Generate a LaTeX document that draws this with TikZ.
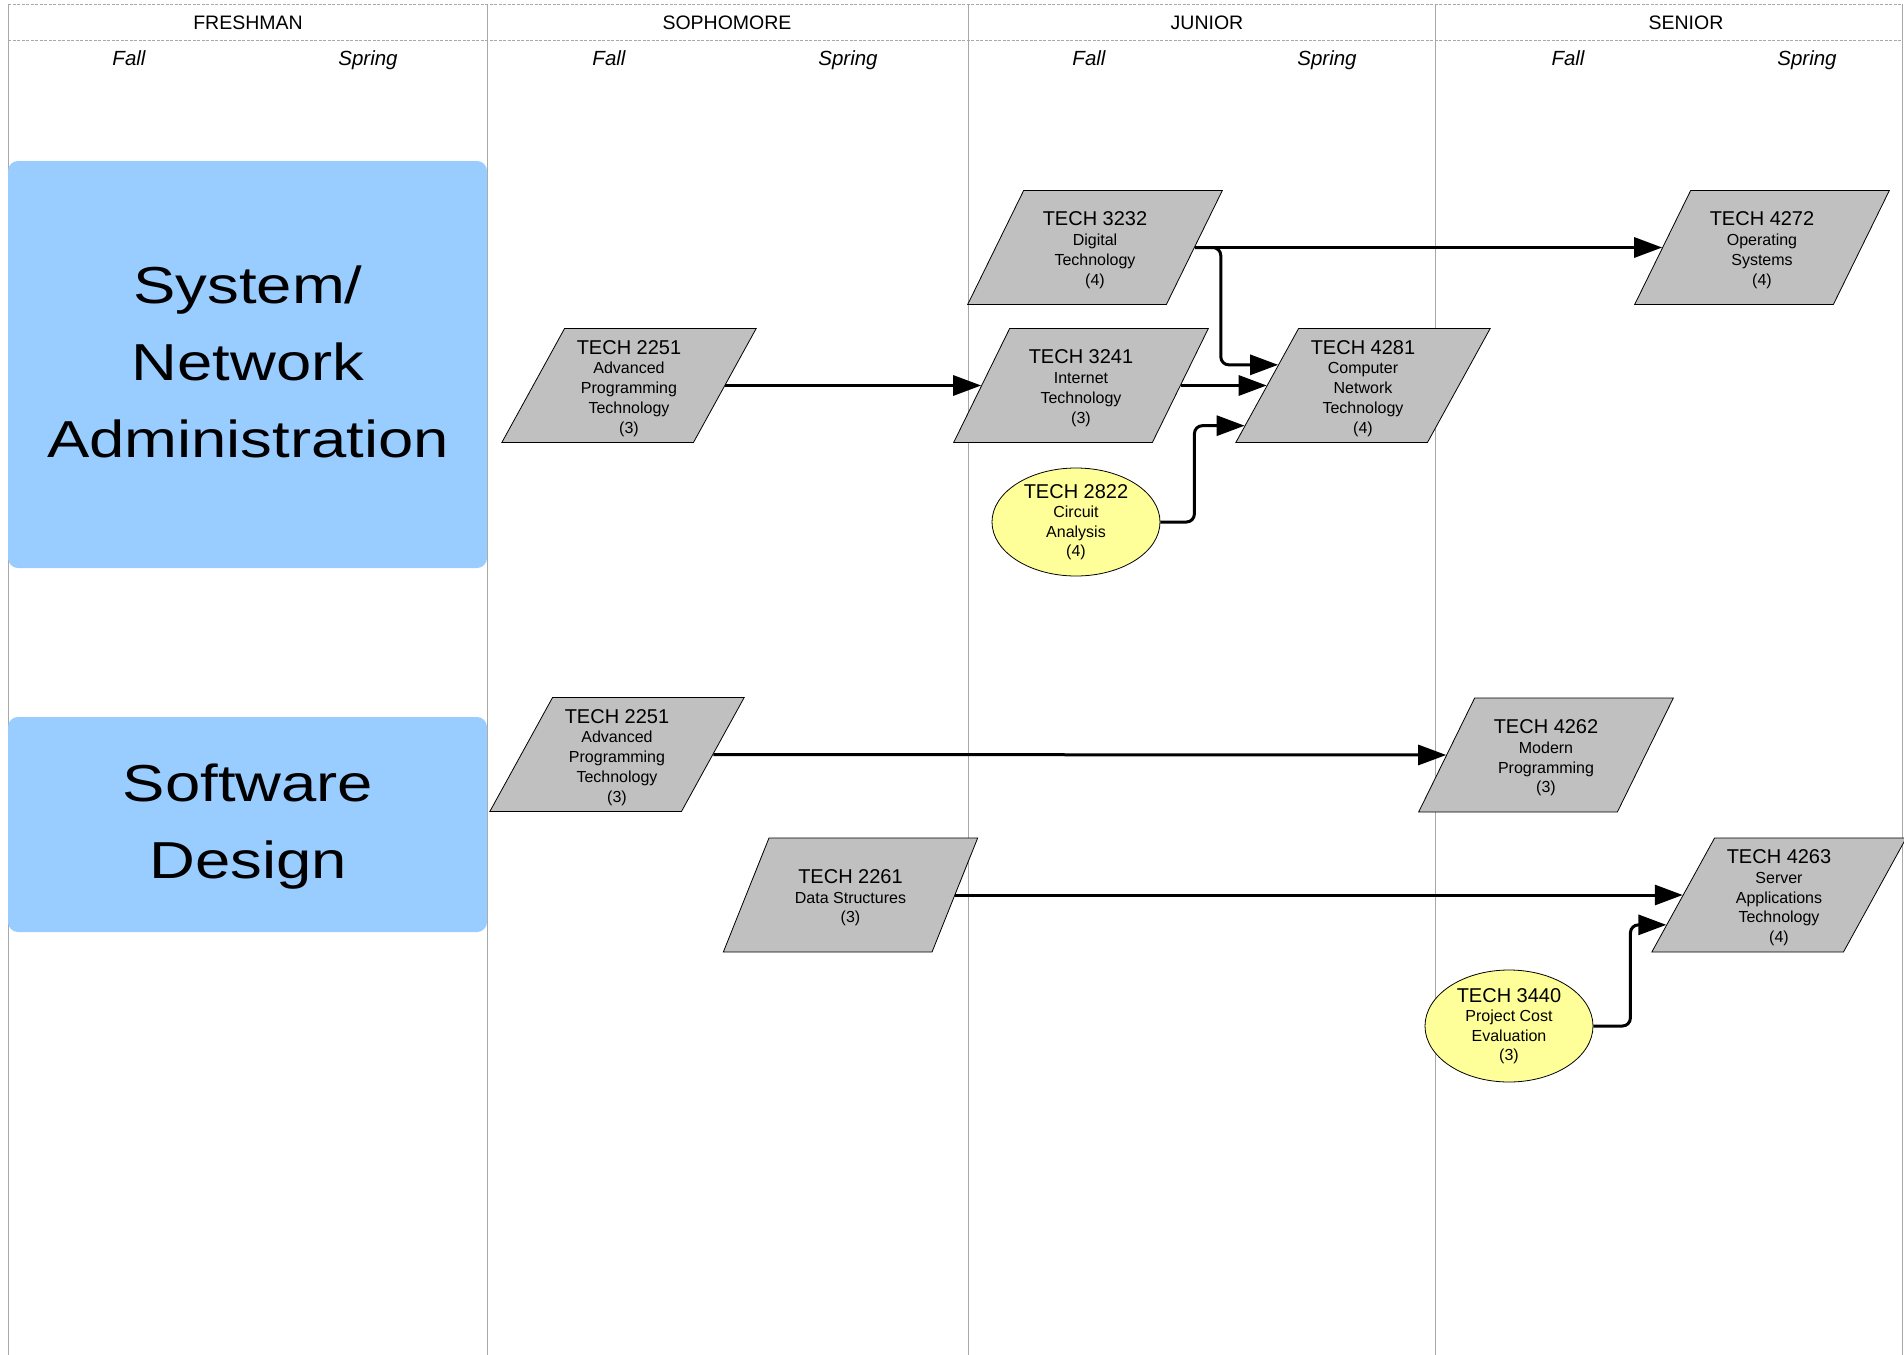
\documentclass[tikz,border=0pt]{standalone}
\usepackage{fontspec}
\usepackage{graphicx}
\setmainfont{Liberation Sans}
\usetikzlibrary{shapes.geometric,arrows.meta,calc}
\definecolor{boxblue}{HTML}{99CCFF}
\definecolor{pgray}{HTML}{C0C0C0}
\definecolor{eyellow}{HTML}{FFFF99}
\definecolor{gridgray}{HTML}{A8A8A8}
\newcommand{\crs}[2]{{\fontsize{20}{20}\selectfont #1}\\#2}
\newcommand{\crsp}[2]{{\fontsize{20}{20}\selectfont\rule{0pt}{19.5pt}#1}\\#2}
\newcommand{\bigtxt}[1]{\scalebox{1.22}[1]{\fontsize{52}{77}\selectfont\begin{tabular}[t]{@{}c@{}}#1\end{tabular}}}
\begin{document}
\begin{tikzpicture}[x=1pt,y=-1pt,
  para/.style={trapezium, trapezium left angle=63.5, trapezium right angle=116.5,
    trapezium stretches=true, draw=black, line width=0.8pt, fill=pgray,
    minimum height=114pt, minimum width=#1, inner sep=0pt, align=center,
    font=\fontsize{16}{19.8}\selectfont},
  para/.default=255pt,
  oval/.style={ellipse, draw=black, line width=0.8pt, fill=eyellow,
    minimum width=168pt, minimum height=108pt, inner sep=0pt, align=center,
    font=\fontsize{16}{19.5}\selectfont},
  arr/.style={line width=3pt, -{Triangle[length=28pt,width=20pt]}, rounded corners=8pt},
  gridline/.style={draw=gridgray, line width=0.8pt},
  hdr/.style={font=\fontsize{19.5}{20}\selectfont, anchor=base},
  sem/.style={font=\fontsize{20.5}{22}\selectfont\itshape, anchor=base},
  track/.style={fill=boxblue, rounded corners=10pt, minimum width=479pt},
  tracklabel/.style={anchor=base, inner sep=0pt}]
\fill[white] (0,0) rectangle (1904,1355);
\useasboundingbox (0,0) rectangle (1904,1355);
% grid
\draw[gridline, dash pattern=on 3pt off 1.5pt] (8,4) -- (1902,4);
\draw[gridline, dash pattern=on 3pt off 1.5pt] (8,40) -- (1902,40);
\foreach \x in {8,487,968,1435,1902} \draw[gridline] (\x,4) -- (\x,1355);
% headers
\node[hdr] (hfr) at (248,29) {FRESHMAN};
\node[hdr] (hso) at (727,29) {SOPHOMORE};
\node[hdr] (hju) at (1207,29) {JUNIOR};
\node[hdr] (hse) at (1686,29) {SENIOR};
\node[sem] (s1) at (129,65) {Fall};
\node[sem] (s2) at (368,65) {Spring};
\node[sem] (s3) at (609,65) {Fall};
\node[sem] (s4) at (848,65) {Spring};
\node[sem] (s5) at (1089,65) {Fall};
\node[sem] (s6) at (1327,65) {Spring};
\node[sem] (s7) at (1568,65) {Fall};
\node[sem] (s8) at (1807,65) {Spring};
% tracks
\node[track, minimum height=407pt] (tsys) at (247.5,364.5) {};
\node[tracklabel] (tsyslabel) at (248,303.5) {\bigtxt{System/\\Network\\Administration}};
\node[track, minimum height=215pt] (tsw) at (247.5,824.5) {};
\node[tracklabel] (tswlabel) at (248,801) {\bigtxt{Software\\Design}};
% courses
\node[para] (p2251a) at (629,385.5) {\crsp{TECH 2251}{Advanced\\Programming\\Technology\\(3)}};
\node[para] (p3232) at (1095,247.5) {\crsp{TECH 3232}{Digital\\Technology\\(4)}};
\node[para] (p3241) at (1081,385.5) {\crsp{TECH 3241}{Internet\\Technology\\(3)}};
\node[para] (p4281) at (1363,385.5) {\crsp{TECH 4281}{Computer\\Network\\Technology\\(4)}};
\node[para] (p4272) at (1762,247.5) {\crsp{TECH 4272}{Operating\\Systems\\(4)}};
\node[oval] (o2822) at (1076,522) {\crs{TECH 2822}{Circuit\\Analysis\\(4)}};
\node[para] (p2251b) at (617,754.5) {\crsp{TECH 2251}{Advanced\\Programming\\Technology\\(3)}};
\node[para] (p4262) at (1546,755) {\crsp{TECH 4262}{Modern\\Programming\\(3)}};
\node[para] (p2261) at (850.5,895) {\crsp{TECH 2261}{Data Structures\\(3)}};
\node[para] (p4263) at (1779,895) {\crsp{TECH 4263}{Server\\Applications\\Technology\\(4)}};
\node[oval, minimum height=112pt] (o3440) at (1509,1026) {\crs{TECH 3440}{Project Cost\\Evaluation\\(3)}};
% connectors
\draw[arr] (p2251a.right side) -- (p3241.left side);
\draw[arr] (p3232.right side) -- (p4272.left side);
\draw[arr] (p3232.right side) -- ++(26,0) |- ($(p4281.top left corner)!0.32!(p4281.bottom left corner)$);
\draw[arr] (p3241.right side) -- (p4281.left side);
\draw[arr] (o2822.east) -- ++(34,0) |- ($(p4281.top left corner)!0.85!(p4281.bottom left corner)$);
\draw[arr] (p2251b.right side) -- (p4262.left side);
\draw[arr] (p2261.right side) -- (p4263.left side);
\draw[arr] (o3440.east) -- ++(37,0) |- ($(p4263.top left corner)!0.76!(p4263.bottom left corner)$);
\end{tikzpicture}
\end{document}
